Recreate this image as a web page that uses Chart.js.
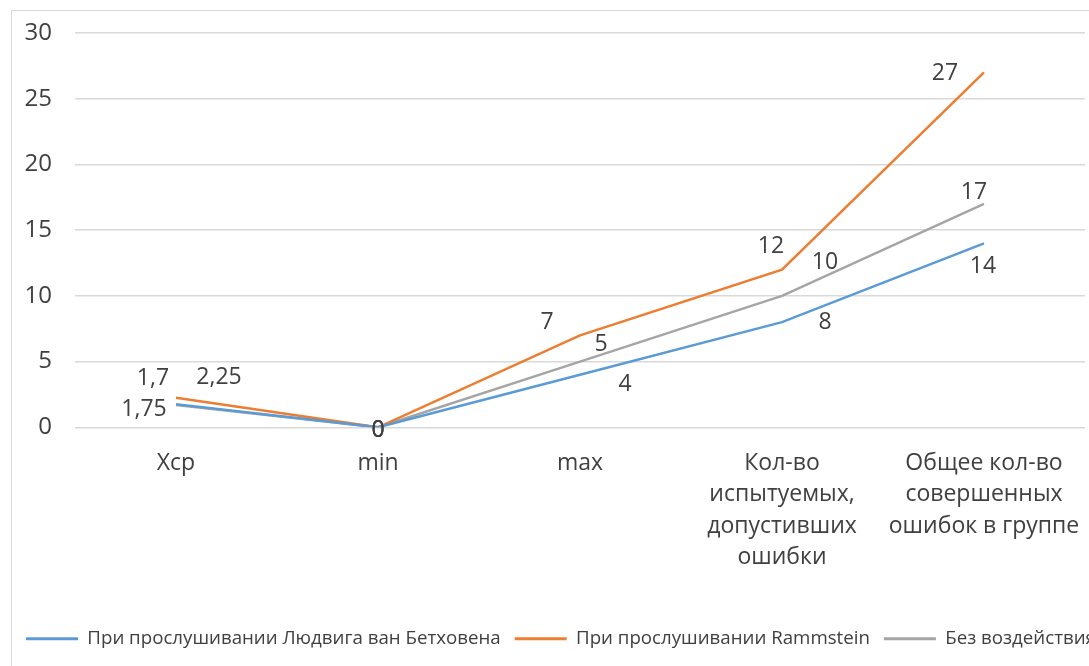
<!DOCTYPE html>
<html>
<head>
<meta charset="utf-8">
<script src="https://cdn.jsdelivr.net/npm/chart.js@4"></script>
<style>
  html, body { margin: 0; padding: 0; background: #fff; overflow: hidden; }
  #frame { position: absolute; left: 11px; top: 10px; border: 1px solid #d9d9d9; width: 1200px; height: 700px; }
  #chart { display: block; }
</style>
</head>
<body>
<div id="frame"><canvas id="chart" width="1200" height="680"></canvas></div>
<script>
// categories (x axis tick labels, wrapped like the original)
var categories = [
  "Хср",
  "min",
  "max",
  ["Кол-во", "испытуемых,", "допустивших", "ошибки"],
  ["Общее кол-во", "совершенных", "ошибок в группе"]
];
var seriesNames = [
  "При прослушивании Людвига ван Бетховена",
  "При прослушивании Rammstein",
  "Без воздействия"
];
var beethoven = [1.75, 0, 4, 8, 14];
var rammstein = [2.25, 0, 7, 12, 27];
var noEffect  = [1.7, 0, 5, 10, 17];
var yTicks = [0, 5, 10, 15, 20, 25, 30];

var textColor = "#404040";
var font = '"Open Sans", sans-serif';

// where each value label sits relative to its point (dx, dy), per series
var labelOffsets = [
  [[-32, 5], [0, 3], [45, 10], [43, 0], [-1, 23]],
  [[43, -20], [0, 3], [-33, -13], [-11, -23], [-39, 1]],
  [[-23, -27], [0, 3], [21, -17], [43, -33], [-10, -11]]
];

var valueLabels = {
  id: "valueLabels",
  afterDatasetsDraw: function(chart) {
    var ctx = chart.ctx;
    ctx.save();
    ctx.font = "23px " + font;
    ctx.fillStyle = textColor;
    ctx.textAlign = "center";
    ctx.textBaseline = "middle";
    chart.data.datasets.forEach(function(ds, i) {
      var meta = chart.getDatasetMeta(i);
      meta.data.forEach(function(pt, j) {
        var off = labelOffsets[i][j];
        var txt = String(ds.data[j]).replace(".", ",");
        ctx.fillText(txt, pt.x + off[0], pt.y + off[1]);
      });
    });
    ctx.restore();
  }
};

function line(label, data, color) {
  return {
    label: label,
    data: data,
    borderColor: color,
    backgroundColor: color,
    borderWidth: 2.5,
    pointRadius: 0,
    tension: 0,
    fill: false
  };
}

new Chart(document.getElementById("chart"), {
  type: "line",
  data: {
    labels: categories,
    datasets: [
      line(seriesNames[0], beethoven, "#5B9BD5"),
      line(seriesNames[1], rammstein, "#ED7D31"),
      line(seriesNames[2], noEffect, "#A5A5A5")
    ]
  },
  options: {
    responsive: false,
    animation: false,
    layout: { padding: { top: 22, bottom: 33, left: 0, right: 0 } },
    plugins: {
      tooltip: { enabled: false },
      legend: {
        position: "bottom",
        align: "start",
        labels: {
          boxWidth: 52,
          boxHeight: 3,
          padding: 14,
          color: textColor,
          font: { family: font, size: 18.7 },
          generateLabels: function(chart) {
            return chart.data.datasets.map(function(ds, i) {
              return {
                text: ds.label,
                fillStyle: ds.borderColor,
                strokeStyle: ds.borderColor,
                lineWidth: 0,
                fontColor: textColor,
                datasetIndex: i
              };
            });
          }
        }
      }
    },
    scales: {
      x: {
        offset: true,
        grid: { display: false, offset: true },
        border: { display: false },
        ticks: {
          color: textColor,
          font: { family: font, size: 23, lineHeight: 1.37 },
          padding: 12,
          maxRotation: 0,
          autoSkip: false
        },
        afterFit: function(a) { a.height = 188; }
      },
      y: {
        min: 0,
        max: 30,
        afterBuildTicks: function(a) { a.ticks = yTicks.map(function(v) { return { value: v }; }); },
        grid: { color: "#d9d9d9", lineWidth: 1.5, drawTicks: true, tickLength: 20, tickColor: "rgba(0,0,0,0)" },
        border: { display: false },
        ticks: {
          color: textColor,
          font: { family: font, size: 24 },
          padding: 3
        },
        afterFit: function(a) { a.width = 63; }
      },
      yr: {
        type: "linear",
        position: "right",
        grid: { display: false },
        border: { display: false },
        ticks: { display: false },
        afterFit: function(a) { a.width = 127; }
      }
    }
  },
  plugins: [valueLabels]
});
</script>
</body>
</html>
